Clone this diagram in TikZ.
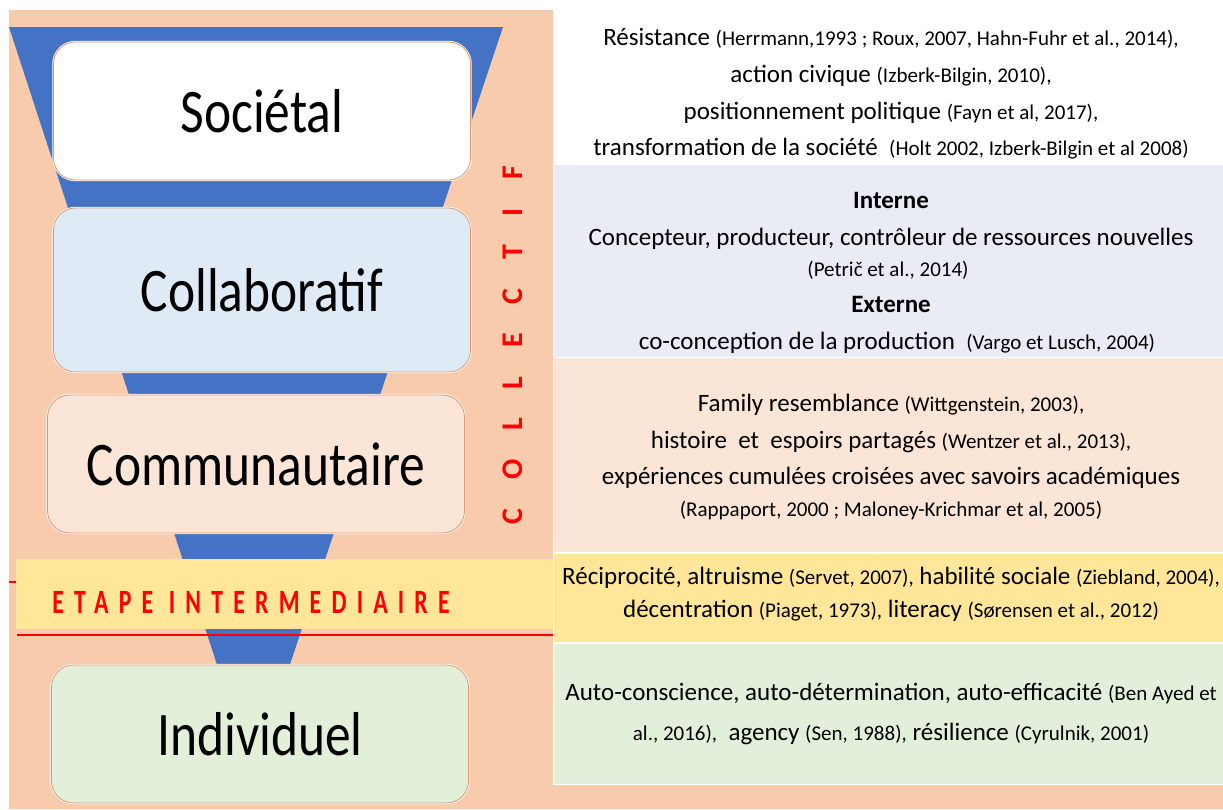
\documentclass[tikz,border=0pt]{standalone}
\usepackage{fontspec}
\setmainfont{Carlito}
\newfontfamily\stagefont{Carlito}[FakeStretch=0.83]
\newfontfamily\stepfont{Carlito}[FakeStretch=0.7, LetterSpace=30]
\newfontfamily\sidefont{Carlito}[LetterSpace=96]
\usepackage{tikz}
\definecolor{peachcolor}{RGB}{248,203,173}
\definecolor{funnelcolor}{RGB}{68,114,196}
\definecolor{edgecolor}{RGB}{222,150,110}
\definecolor{lightbluecolor}{RGB}{222,235,247}
\definecolor{lightpeachcolor}{RGB}{251,229,214}
\definecolor{lightgreencolor}{RGB}{226,240,217}
\definecolor{yellowcolor}{RGB}{255,230,153}
\definecolor{lavendercolor}{RGB}{233,235,245}
\definecolor{panelgreencolor}{RGB}{226,239,218}

% smaller size for the references
\newcommand{\refsrc}[1]{{\fontsize{21}{22}\selectfont #1}}

\begin{document}
\begin{tikzpicture}[x=1pt, y=-1pt, % one unit = one pixel, y going down
    stage/.style={preaction={draw=white, line width=2.4pt}, draw=edgecolor, line width=0.8pt,
        rounded corners=22pt, minimum width=417pt, minimum height=138pt, inner sep=0pt,
        font=\stagefont\fontsize{62}{62}\selectfont},
    panel/.style={draw=white, line width=1pt, anchor=north west, minimum width=670pt, inner sep=0pt},
    reftext/.style={align=center, inner sep=0pt, font=\fontsize{25}{36.7}\selectfont}]

    \useasboundingbox (0,0) rectangle (1223,809);

    % Background
    \fill[peachcolor] (9,10) rectangle (1223,809);

    % Funnel behind the stages
    \fill[funnelcolor] (9,27) -- (503,27) -- (253,775) -- cycle;

    % Intermediate step band with its red lines
    \draw[red, line width=1.2pt] (9,582) -- (553,582);
    \fill[yellowcolor] (16,559) rectangle (553,629);
    \draw[red, line width=1.2pt] (17,635) -- (553,635);
    \node[text=red, font=\stepfont\bfseries\fontsize{34}{34}\selectfont] (etape) at (251,602) {ETAPE INTERMEDIAIRE};

    % Stages
    \node[stage, fill=white] (societal) at (262,111) {Sociétal};
    \node[stage, fill=lightbluecolor, minimum height=164pt] (collab) at (262,290) {Collaboratif};
    \node[stage, fill=lightpeachcolor] (commu) at (256,464) {Communautaire};
    \node[stage, fill=lightgreencolor] (indiv) at (260,734) {Individuel};

    % Vertical label
    \node[rotate=90, text=red, font=\sidefont\bfseries\fontsize{30}{30}\selectfont] (collectif) at (513,345) {COLLECTIF};

    % Right hand panels
    \node[panel, fill=white, minimum height=163pt] (socpanel) at (553,0) {};
    \node[panel, fill=lavendercolor, minimum height=193pt] (colpanel) at (553,164) {};
    \node[panel, fill=lightpeachcolor, minimum height=195pt] (companel) at (553,357) {};
    \node[panel, fill=yellowcolor, minimum height=89pt] (midpanel) at (553,553) {};
    \node[panel, fill=panelgreencolor, minimum height=141pt] (indpanel) at (553,643) {};

    % Panel texts
    \node[reftext] (soctext) at (891,94) {Résistance \refsrc{(Herrmann,1993 ; Roux, 2007, Hahn-Fuhr et al., 2014),}\\
        action civique \refsrc{(Izberk-Bilgin, 2010),}\\
        positionnement politique \refsrc{(Fayn et al, 2017),}\\
        transformation de la société~ \refsrc{(Holt 2002, Izberk-Bilgin et al 2008)}};

    \node[reftext] (interne) at (891,200) {\textbf{Interne}};
    \node[reftext] (coltext) at (891,239) {Concepteur, producteur, contrôleur de ressources nouvelles};
    \node[reftext] (colref) at (888,270) {\refsrc{(Petrič et al., 2014)}};
    \node[reftext] (externe) at (891,304) {\textbf{Externe}};
    \node[reftext] (cocon) at (897,343) {co-conception de la production~ \refsrc{(Vargo et Lusch, 2004)}};

    \node[reftext] (comtext) at (891,457) {Family resemblance \refsrc{(Wittgenstein, 2003),}\\
        histoire~ et~ espoirs partagés \refsrc{(Wentzer et al., 2013),}\\
        expériences cumulées croisées avec savoirs académiques\\[-5pt]
        \refsrc{(Rappaport, 2000 ; Maloney-Krichmar et al, 2005)}};

    \node[reftext, font=\fontsize{25}{33}\selectfont] (midtext) at (891,594) {Réciprocité, altruisme \refsrc{(Servet, 2007),} habilité sociale \refsrc{(Ziebland, 2004),}\\
        décentration \refsrc{(Piaget, 1973),} literacy \refsrc{(Sørensen et al., 2012)}};

    \node[reftext, font=\fontsize{25}{40}\selectfont] (indtext) at (891,714) {Auto-conscience, auto-détermination, auto-efficacité \refsrc{(Ben Ayed et}\\
        \refsrc{al., 2016),}~ agency \refsrc{(Sen, 1988),} résilience \refsrc{(Cyrulnik, 2001)}};

\end{tikzpicture}
\end{document}
